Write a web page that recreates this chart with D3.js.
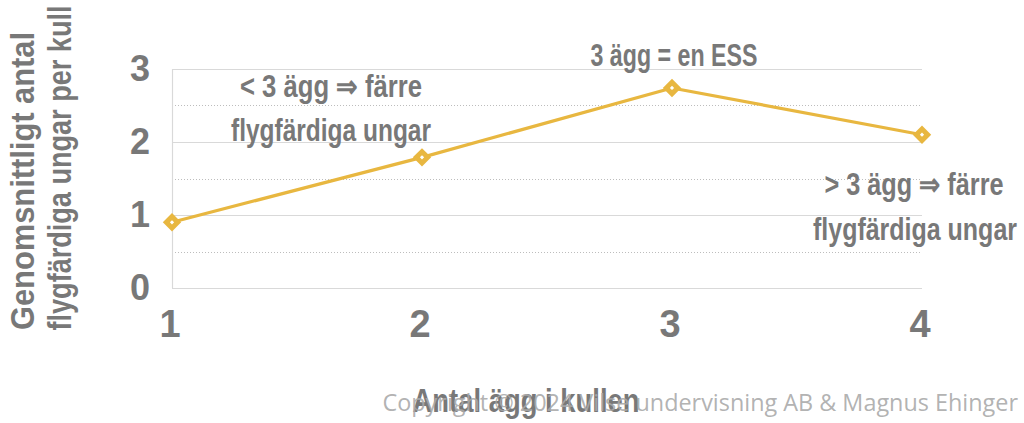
<!DOCTYPE html>
<html><head><meta charset="utf-8">
<script src="https://cdn.jsdelivr.net/npm/d3@7"></script>
<style>
html,body{margin:0;padding:0;background:#fff;}
svg{display:block;}
</style></head>
<body>
<svg id="c" width="1024" height="423"></svg>
<script>
const eggs = [1, 2, 3, 4];
const fledglings = [0.9, 1.79, 2.74, 2.1];
const yTicks = [0, 1, 2, 3];
const yHalfTicks = [0.5, 1.5, 2.5];
const xTicks = [1, 2, 3, 4];
const yTitleLines = ["Genomsnittligt antal", "flygfärdiga ungar per kull"];
const xTitle = "Antal ägg i kullen";
const noteTexts = ["< 3 ägg ⇒ färre", "flygfärdiga ungar", "3 ägg = en ESS", "> 3 ägg ⇒ färre", "flygfärdiga ungar"];
const copyright = "Copyright © 2024 Vilse undervisning AB & Magnus Ehinger";

// layout (positions in data units, widths in px)
const noteLayout = [
  {x: 1.636, y: 2.616, w: 182},
  {x: 1.636, y: 2.014, w: 200},
  {x: 3.008, y: 3.04,  w: 167},
  {x: 3.968, y: 1.274, w: 179},
  {x: 3.972, y: 0.658, w: 204}
];

const svg = d3.select("#c");
const font = "'Liberation Sans', Arial, sans-serif";
const txtCol = "#787878";
const gold = "#E8B740";

const x = d3.scaleLinear().domain([1, 4]).range([172, 922]);
const y = d3.scaleLinear().domain([0, 3]).range([288, 69]);

// grid
svg.append("g").selectAll("line").data(yHalfTicks).join("line")
  .attr("x1", x(1)).attr("x2", x(4))
  .attr("y1", d => Math.round(y(d)) + 0.5).attr("y2", d => Math.round(y(d)) + 0.5)
  .attr("stroke", "#bdbdbd").attr("stroke-width", 1).attr("stroke-dasharray", "1,2");
svg.append("g").selectAll("line").data(yTicks).join("line")
  .attr("x1", x(1)).attr("x2", x(4))
  .attr("y1", d => Math.round(y(d)) + 0.5).attr("y2", d => Math.round(y(d)) + 0.5)
  .attr("stroke", "#d9d9d9").attr("stroke-width", 1.2);
svg.append("line")
  .attr("x1", x(1) + 0.5).attr("x2", x(1) + 0.5)
  .attr("y1", y(3)).attr("y2", y(0))
  .attr("stroke", "#d9d9d9").attr("stroke-width", 1.2);

// y tick labels
svg.append("g").selectAll("text").data(yTicks).join("text")
  .attr("x", 150).attr("y", d => y(d) + 12)
  .attr("text-anchor", "end")
  .attr("font-family", font).attr("font-weight", "bold").attr("font-size", 36)
  .attr("fill", txtCol).text(d => d);

// x tick labels
svg.append("g").selectAll("text").data(xTicks).join("text")
  .attr("x", d => x(d) - 2).attr("y", 337)
  .attr("text-anchor", "middle")
  .attr("font-family", font).attr("font-weight", "bold").attr("font-size", 38)
  .attr("fill", txtCol).text(d => d);

// y title
const yTitlePos = [{cy: 181, bx: 34, w: 298}, {cy: 168, bx: 71, w: 325}];
svg.append("g").selectAll("text").data(yTitleLines).join("text")
  .attr("transform", (d, i) => `translate(${yTitlePos[i].bx},${yTitlePos[i].cy}) rotate(-90)`)
  .attr("text-anchor", "middle")
  .attr("textLength", (d, i) => yTitlePos[i].w).attr("lengthAdjust", "spacingAndGlyphs")
  .attr("font-family", font).attr("font-weight", "bold").attr("font-size", 33)
  .attr("fill", txtCol).text(d => d);

// x title
svg.append("text")
  .attr("x", 526).attr("y", 412)
  .attr("text-anchor", "middle")
  .attr("textLength", 227).attr("lengthAdjust", "spacingAndGlyphs")
  .attr("font-family", font).attr("font-weight", "bold").attr("font-size", 33)
  .attr("fill", txtCol).text(xTitle);

// line
const line = d3.line().x((d, i) => x(eggs[i])).y(d => y(d));
svg.append("path").datum(fledglings)
  .attr("d", line).attr("fill", "none")
  .attr("stroke", gold).attr("stroke-width", 3.2).attr("stroke-linejoin", "round");

// markers
svg.append("g").selectAll("path").data(fledglings).join("path")
  .attr("d", d3.symbol().type(d3.symbolSquare).size(64))
  .attr("transform", (d, i) => `translate(${x(eggs[i])},${y(d)}) rotate(45)`)
  .attr("fill", "#fff").attr("stroke", gold).attr("stroke-width", 5);

// annotations
svg.append("g").selectAll("text").data(noteTexts).join("text")
  .attr("x", (d, i) => x(noteLayout[i].x))
  .attr("y", (d, i) => y(noteLayout[i].y))
  .attr("text-anchor", "middle")
  .attr("textLength", (d, i) => noteLayout[i].w).attr("lengthAdjust", "spacingAndGlyphs")
  .attr("font-family", font).attr("font-weight", "bold").attr("font-size", 31)
  .attr("fill", txtCol).text(d => d);

// copyright
svg.append("text")
  .attr("x", 1018).attr("y", 411)
  .attr("text-anchor", "end")
  .attr("font-family", "'Open Sans', sans-serif").attr("font-size", 23.4)
  .attr("fill", "#a9a9a9").attr("fill-opacity", 0.9).text(copyright);
</script>
</body></html>
